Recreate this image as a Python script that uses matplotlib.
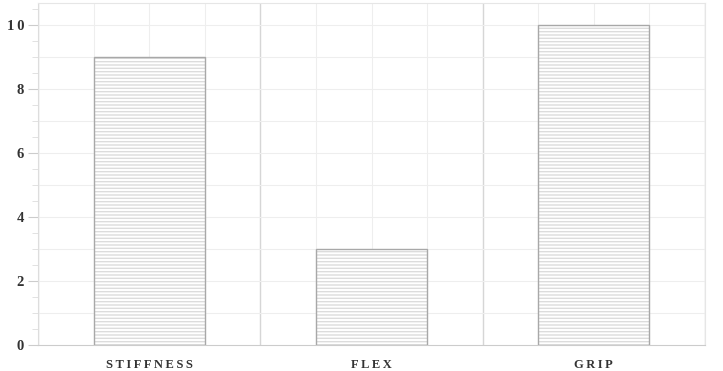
import matplotlib
matplotlib.use("Agg")
import matplotlib.pyplot as plt
from matplotlib.ticker import MultipleLocator

# chart data
categories = ["STIFFNESS", "FLEX", "GRIP"]
values = [9, 3, 10]

plt.rcParams['hatch.linewidth'] = 1.0

fig = plt.figure(figsize=(7.23, 3.71), dpi=100)
ax = fig.add_axes([38 / 723, 26 / 371, 667 / 723, 342 / 371])

x = list(range(len(categories)))
# hatch takes the edge colour, so draw the light stripes and the outline apart
ax.bar(x, values, width=0.5, color='white', edgecolor='#dcdcdc',
       linewidth=0, hatch='-----', zorder=3)
ax.bar(x, values, width=0.5, fill=False, edgecolor='#a8a8a8',
       linewidth=1.0, zorder=4)

ax.set_xlim(-0.5, len(categories) - 0.5)
ax.set_ylim(0, 10.69)

# grid: boundaries between categories plus quarter lines inside each
for i in range(len(categories) + 1):
    ax.axvline(i - 0.5, color='#d6d6d6', lw=1.0, zorder=1)
for i in range(len(categories)):
    for off in (-0.25, 0, 0.25):
        ax.axvline(i + off, color='#eeeeee', lw=0.8, zorder=1)
ax.yaxis.set_major_locator(MultipleLocator(2))
ax.yaxis.set_minor_locator(MultipleLocator(0.5))
for v in range(1, 11):
    ax.axhline(v, color='#eeeeee', lw=0.8, zorder=1)

for s in ['top', 'right']:
    ax.spines[s].set_color('#e6e6e6')
ax.spines['left'].set_color('#dddddd')
ax.spines['bottom'].set_color('#cccccc')

ax.set_xticks(x)
ax.set_xticklabels(['\u2009'.join(c) for c in categories],
                   fontfamily='Liberation Serif', fontweight='bold',
                   fontsize=9, color='#333333')
ax.tick_params(axis='x', length=0, pad=10)
ax.tick_params(axis='y', which='major', length=7, color='#cccccc', pad=3,
               labelsize=10.5)
ax.tick_params(axis='y', which='minor', length=4, color='#dddddd')
for lab in ax.get_yticklabels():
    lab.set_fontfamily('Liberation Serif')
    lab.set_fontweight('bold')
    lab.set_color('#333333')
ax.set_yticklabels(['\u2009'.join(str(int(t))) for t in ax.get_yticks()])

fig.savefig('out.png', dpi=100)
